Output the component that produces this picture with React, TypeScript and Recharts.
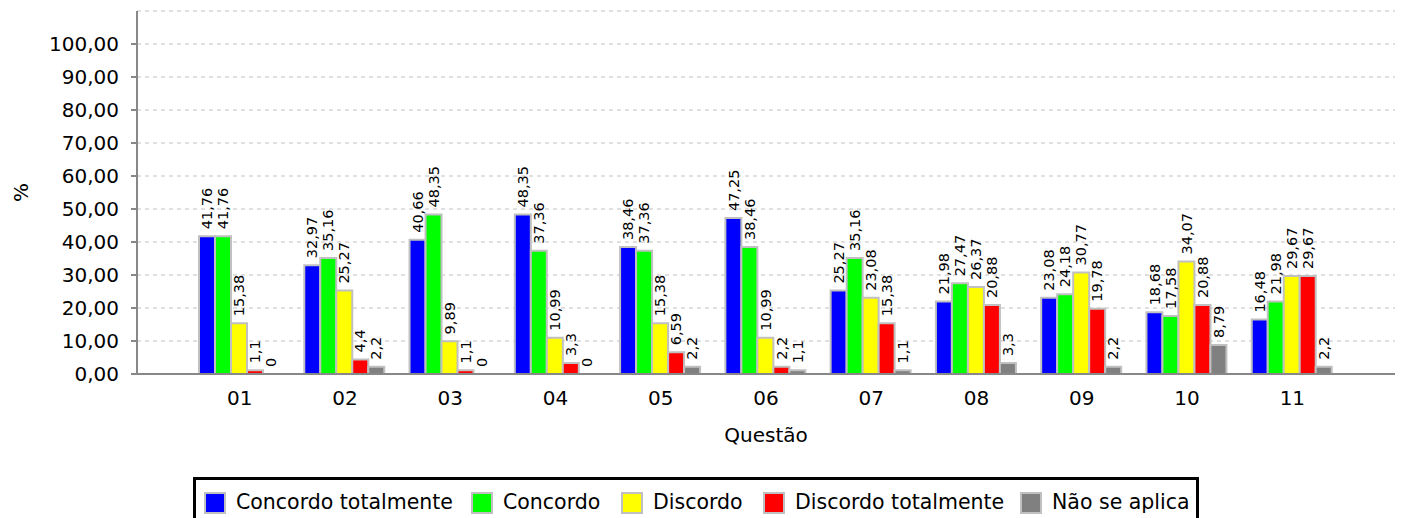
import React from 'react';
import { BarChart, Bar, XAxis, YAxis, CartesianGrid, Legend, LabelList, Rectangle } from 'recharts';

const FONT = '"DejaVu Sans", "Lucida Sans", sans-serif';

const questions = ['01', '02', '03', '04', '05', '06', '07', '08', '09', '10', '11'];
const concordoTotalmente = [41.76, 32.97, 40.66, 48.35, 38.46, 47.25, 25.27, 21.98, 23.08, 18.68, 16.48];
const concordo = [41.76, 35.16, 48.35, 37.36, 37.36, 38.46, 35.16, 27.47, 24.18, 17.58, 21.98];
const discordo = [15.38, 25.27, 9.89, 10.99, 15.38, 10.99, 23.08, 26.37, 30.77, 34.07, 29.67];
const discordoTotalmente = [1.1, 4.4, 1.1, 3.3, 6.59, 2.2, 15.38, 20.88, 19.78, 20.88, 29.67];
const naoSeAplica = [0, 2.2, 0, 0, 2.2, 1.1, 1.1, 3.3, 2.2, 8.79, 2.2];
const yTicks = [0, 10, 20, 30, 40, 50, 60, 70, 80, 90, 100];

const seriesNames = ['Concordo totalmente', 'Concordo', 'Discordo', 'Discordo totalmente', 'Não se aplica'];
const seriesKeys = ['ct', 'c', 'd', 'dt', 'n'];
const seriesValues = [concordoTotalmente, concordo, discordo, discordoTotalmente, naoSeAplica];
const seriesColors = ['#0000ff', '#00ff00', '#ffff00', '#ff0000', '#808080'];
const legendItemWidths = [267, 150, 142, 257, 175];

const data = questions.map((q, i) => {
  const row: Record<string, any> = { q };
  seriesKeys.forEach((k, s) => {
    row[k] = seriesValues[s][i];
  });
  return row;
});

const fmtValue = (v: any) => String(v).replace('.', ',');
const fmtTick = (v: number) => v.toFixed(2).replace('.', ',');

const BarValueLabel = (props: any) => {
  const { x, y, width, value } = props;
  if (value === undefined || value === null) return null;
  const cx = Number(x) + Number(width) / 2;
  const ty = Number(y) - 7;
  return (
    <text
      x={cx}
      y={ty}
      dy="0.36em"
      transform={`rotate(-90 ${cx} ${ty})`}
      textAnchor="start"
      fontSize={14.5}
      fontFamily={FONT}
      fill="#000"
    >
      {fmtValue(value)}
    </text>
  );
};

// zero-valued bars get a hair-thin size so their value label is still produced,
// but the rectangle itself is not painted (as in the reference)
const minSize = (value: any) => (value === 0 ? 0.01 : 0);
const BarShape = (props: any) => {
  const v = props.value;
  const raw = Array.isArray(v) ? v[1] : v;
  if (raw === 0) return <g />;
  return <Rectangle {...props} />;
};

const YLabel = (props: any) => {
  const vb = props.viewBox || {};
  const cx = vb.x + 20.5;
  const cy = vb.y + vb.height / 2;
  return (
    <text
      x={cx}
      y={cy}
      dy="0.36em"
      transform={`rotate(-90 ${cx} ${cy})`}
      textAnchor="middle"
      fontSize={20}
      fontFamily={FONT}
      fill="#000"
    >
      %
    </text>
  );
};

const XLabel = (props: any) => {
  const vb = props.viewBox || {};
  return (
    <text
      x={vb.x + vb.width / 2}
      y={vb.y + 68}
      textAnchor="middle"
      fontSize={20}
      fontFamily={FONT}
      fill="#000"
    >
      Questão
    </text>
  );
};

const LegendBox = () => (
  <div
    style={{
      boxSizing: 'border-box',
      width: 1006,
      height: 50,
      border: '3px solid #000',
      paddingLeft: 8,
      paddingTop: 12,
      display: 'flex',
      alignItems: 'flex-start',
      fontFamily: FONT,
      fontSize: 20.5,
      color: '#000',
      background: '#fff',
    }}
  >
    {seriesNames.map((name, i) => (
      <div key={name} style={{ width: legendItemWidths[i], display: 'flex', alignItems: 'center', height: 22, flex: 'none' }}>
        <span
          style={{
            boxSizing: 'border-box',
            width: 22,
            height: 22,
            background: seriesColors[i],
            border: '2px solid #c0c0c0',
            marginRight: 10,
            flex: 'none',
            display: 'inline-block',
          }}
        />
        <span style={{ whiteSpace: 'nowrap', lineHeight: '22px', position: 'relative', top: -1 }}>{name}</span>
      </div>
    ))}
  </div>
);

export default function App() {
  return (
    <div style={{ position: 'absolute', left: 0, top: 0, width: 1401, height: 518, overflow: 'hidden', background: '#fff' }}>
      <BarChart
        width={1401}
        height={518}
        data={data}
        margin={{ top: 11, right: 6, left: 0, bottom: 24 }}
        barGap={0}
        barCategoryGap={12}
      >
        <CartesianGrid vertical={false} stroke="#c0c0c0" strokeDasharray="4 4" />
        <XAxis
          dataKey="q"
          padding={{ left: 50, right: 50 }}
          height={70}
          tickSize={0}
          tickMargin={17}
          tickLine={false}
          interval={0}
          axisLine={{ stroke: '#888', strokeWidth: 2 }}
          tick={{ fontSize: 20, fill: '#000', fontFamily: FONT }}
          label={{ content: XLabel }}
        />
        <XAxis
          xAxisId="top"
          orientation="top"
          type="number"
          domain={[0, 1]}
          height={0}
          tick={false}
          tickLine={false}
          axisLine={{ stroke: '#999', strokeWidth: 1 }}
        />
        <YAxis
          domain={[0, 110]}
          ticks={yTicks}
          interval={0}
          width={137}
          tickSize={6}
          tickMargin={12}
          tickLine={{ stroke: '#888', strokeWidth: 2 }}
          axisLine={{ stroke: '#888', strokeWidth: 2 }}
          tick={{ fontSize: 20, fill: '#000', fontFamily: FONT }}
          tickFormatter={fmtTick}
          label={{ content: YLabel }}
        />
        <YAxis
          yAxisId="right"
          orientation="right"
          type="number"
          domain={[0, 1]}
          width={0}
          tick={false}
          tickLine={false}
          axisLine={{ stroke: '#999', strokeWidth: 1 }}
        />
        <Legend
          content={() => <LegendBox />}
          wrapperStyle={{ top: 477, left: 193, bottom: 'auto', width: 1006 }}
        />
        {seriesKeys.map((k, s) => (
          <Bar
            key={k}
            dataKey={k}
            name={seriesNames[s]}
            fill={seriesColors[s]}
            stroke="#c0c0c0"
            strokeWidth={2}
            minPointSize={minSize}
            shape={BarShape}
            isAnimationActive={false}
          >
            <LabelList dataKey={k} content={BarValueLabel} />
          </Bar>
        ))}
      </BarChart>
    </div>
  );
}
